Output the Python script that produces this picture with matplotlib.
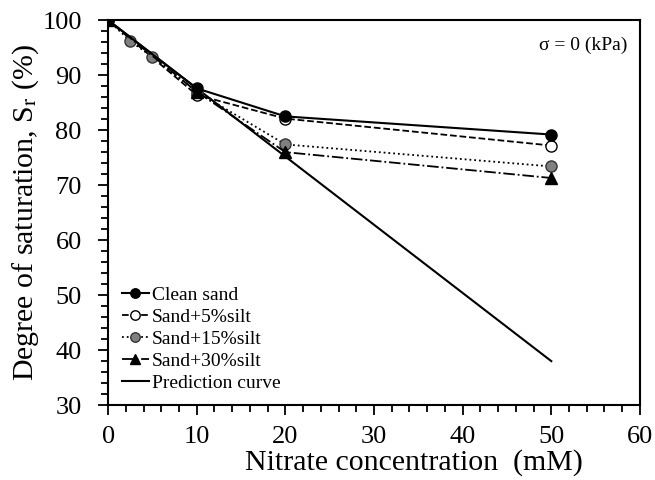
import matplotlib
matplotlib.use('Agg')
import matplotlib.pyplot as plt
from matplotlib.ticker import MultipleLocator

plt.rcParams['font.family'] = ['Liberation Serif', 'DejaVu Serif']
plt.rcParams['mathtext.fontset'] = 'stix'

# nitrate concentration (mM) and degree of saturation (%)
conc = [0, 10, 20, 50]
conc_15 = [0, 2.5, 5, 10, 20, 50]
clean_sand = [100, 87.6, 82.5, 79.2]
silt_5 = [100, 86.4, 82.1, 77.2]
silt_15 = [100, 96.2, 93.3, 87.0, 77.4, 73.4]
silt_30 = [100, 87.0, 76.0, 71.3]
pred_conc = [0, 50]
prediction = [100, 38.0]


def create_graph():
    fig = plt.figure(figsize=(6.55, 4.8), dpi=100)
    ax = fig.add_axes([0.165, 0.156, 0.812, 0.802])

    ms = 8
    ax.plot(conc, clean_sand, '-o', color='black', mfc='black', mec='black',
            ms=ms, lw=1.5, label='Clean sand', zorder=5)
    ax.plot(conc, silt_5, '--o', color='black', mfc='white', mec='black',
            ms=ms, lw=1.3, label='Sand+5%silt', zorder=4)
    ax.plot(conc_15, silt_15, ':o', color='black', mfc='#808080', mec='#333333',
            ms=ms, lw=1.3, label='Sand+15%silt', zorder=4)
    ax.plot(conc, silt_30, '-.^', color='black', mfc='black', mec='black',
            ms=ms, lw=1.3, label='Sand+30%silt', zorder=4)
    ax.plot(pred_conc, prediction, '-', color='black', lw=1.5,
            label='Prediction curve', zorder=3)

    ax.set_xlim(0, 60)
    ax.set_ylim(30, 100)
    ax.xaxis.set_major_locator(MultipleLocator(10))
    ax.xaxis.set_minor_locator(MultipleLocator(2))
    ax.yaxis.set_major_locator(MultipleLocator(10))
    ax.yaxis.set_minor_locator(MultipleLocator(2))
    ax.tick_params(which='both', direction='out', labelsize=19, width=1.3)
    ax.tick_params(which='major', length=7)
    ax.tick_params(which='minor', length=5)
    ax.tick_params(axis='x', which='major', pad=8)
    ax.tick_params(axis='y', which='major', pad=12)
    for sp in ax.spines.values():
        sp.set_linewidth(1.5)

    ax.set_xlabel('Nitrate concentration  (mM)', fontsize=21.5)
    ax.xaxis.set_label_coords(0.576, -0.115)
    ax.set_ylabel('Degree of saturation, S$_\\mathrm{r}$ (%)', fontsize=21.5, labelpad=1)

    ax.text(0.977, 0.935, 'σ = 0 (kPa)', transform=ax.transAxes,
            ha='right', va='center', fontsize=14)

    ax.legend(loc='lower left', frameon=False, fontsize=14, handlelength=1.4,
              handletextpad=0.15, labelspacing=0.22, borderaxespad=0.5,
              borderpad=0.2, markerscale=0.85)

    fig.savefig('out.png', dpi=100)


if __name__ == "__main__":
    create_graph()
